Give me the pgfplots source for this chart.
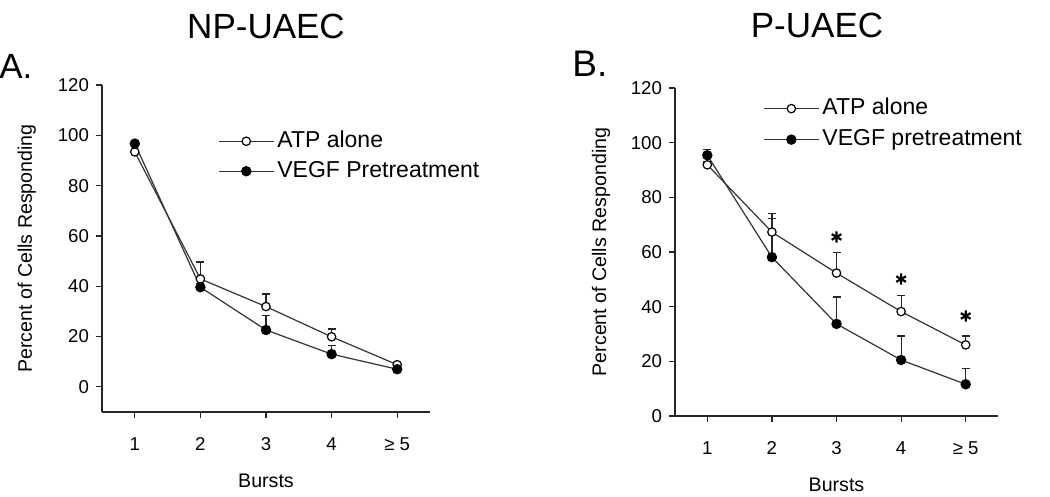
\documentclass[border=0pt]{standalone}
\usepackage{fontspec}
\setmainfont{Liberation Sans}
\usepackage{pgfplots}
\pgfplotsset{compat=1.18}

\pgfplotsset{
  burstaxis/.style={
    scale only axis,
    anchor=south west,
    axis x line*=bottom, axis y line*=left,
    axis line style={black!85, line width=0.6pt},
    xmin=0.5, xmax=5.5, ymax=120,
    xtick={1,2,3,4,5},
    xticklabels={1,2,3,4,{≥ 5}},
    ytick={0,20,40,60,80,100,120},
    tick align=outside,
    major tick length=3pt,
    tick style={black!85, line width=0.6pt},
    /pgf/number format/assume math mode=true,
    tick label style={font=\fontsize{9.3}{11}\selectfont},
    xticklabel style={yshift=-5.5pt, text height=7pt, text depth=0.5pt},
    label style={font=\fontsize{9.8}{11}\selectfont},
    xlabel={Bursts},
    ylabel={Percent of Cells Responding},
    ylabel style={at={(axis description cs:-0.229,0.5)}, anchor=center, rotate=0},
    xlabel style={at={(axis description cs:0.5,-0.21)}, anchor=center},
    legend cell align=left,
    legend style={draw=none, fill=none, inner sep=0pt,
      font=\fontsize{11.5}{13}\selectfont,
      nodes={text height=8.5pt, text depth=2.5pt, inner sep=1.5pt},
      row sep=1pt,
      /tikz/every even column/.append style={column sep=5pt}},
    legend image code/.code={
      \draw[mark repeat=2, mark phase=2]
        plot coordinates {(0pt,0pt) (13.75pt,0pt) (27.5pt,0pt)};},
  },
  ebars/.style={
    error bars/y dir=plus, error bars/y explicit,
    error bars/error bar style={black!85, line width=0.6pt},
    error bars/error mark options={black!85, line width=0.6pt, mark size=2pt, rotate=90}},
  atp/.style={black!80, line width=0.6pt, mark=*, mark size=2.1pt,
    mark options={fill=white, draw=black}, ebars},
  vegf/.style={black!80, line width=0.6pt, mark=*, mark size=2.3pt,
    mark options={fill=black, draw=black}, ebars},
}

\begin{document}
\begin{tikzpicture}
\path[use as bounding box] (0,0) rectangle (525pt,248.5pt);

% panel A
\begin{axis}[burstaxis, at={(51pt,42.5pt)}, width=164pt, height=163.5pt,
  ymin=-10,
  legend style={at={(axis description cs:0.353,0.872)}, anchor=north west}]
\addplot[atp] coordinates {
  (1,93.4) +- (0,0.5)
  (2,42.9) +- (0,6.7)
  (3,31.9) +- (0,5.0)
  (4,19.9) +- (0,3.1)
  (5,8.8)  +- (0,0.8)
};
\addlegendentry{ATP alone}
\addplot[vegf] coordinates {
  (1,96.7) +- (0,0.8)
  (2,39.6) +- (0,1.5)
  (3,22.6) +- (0,5.7)
  (4,13.0) +- (0,3.3)
  (5,7.0)  +- (0,0.8)
};
\addlegendentry{VEGF Pretreatment}
\end{axis}

% panel B
\begin{axis}[burstaxis, at={(337.5pt,40.5pt)}, width=161.5pt, height=164pt,
  ymin=0,
  legend style={at={(axis description cs:0.272,0.981)}, anchor=north west, row sep=1.5pt}]
\addplot[atp] coordinates {
  (1,91.9) +- (0,1.0)
  (2,67.3) +- (0,6.7)
  (3,52.3) +- (0,7.5)
  (4,38.2) +- (0,6.0)
  (5,26.0) +- (0,3.3)
};
\addlegendentry{ATP alone}
\addplot[vegf] coordinates {
  (1,95.4) +- (0,2.0)
  (2,58.1) +- (0,14.3)
  (3,33.7) +- (0,9.8)
  (4,20.5) +- (0,8.8)
  (5,11.6) +- (0,5.9)
};
\addlegendentry{VEGF pretreatment}
\addplot[black, only marks, mark=asterisk, mark size=2.8pt, line width=1.1pt,
  forget plot] coordinates {(3,65.5) (4,50.1) (5,36.6)};
\end{axis}

\node[font=\fontsize{17.5}{20}\selectfont] at (133pt,235.5pt) {NP-UAEC};
\node[font=\fontsize{17.5}{20}\selectfont] at (408.5pt,236pt) {P-UAEC};
\node[font=\fontsize{17.5}{20}\selectfont, anchor=west, inner sep=0pt] at (-0.5pt,215.5pt) {A.};
\node[font=\fontsize{18.5}{20}\selectfont, anchor=west, inner sep=0pt] at (286pt,216.5pt) {B.};
\end{tikzpicture}
\end{document}
